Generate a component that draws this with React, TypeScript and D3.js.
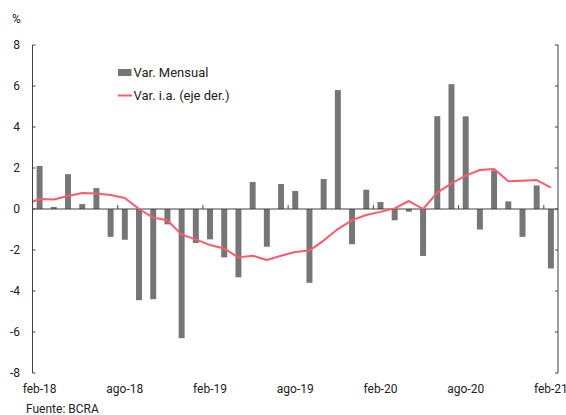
import React from 'react';
import { scaleBand, scaleLinear, line, range } from 'd3';

const WIDTH = 566;
const HEIGHT = 415;

// meses (feb-18 .. feb-21)
const months = [
  'feb-18', 'mar-18', 'abr-18', 'may-18', 'jun-18', 'jul-18', 'ago-18', 'sep-18', 'oct-18', 'nov-18', 'dic-18', 'ene-19',
  'feb-19', 'mar-19', 'abr-19', 'may-19', 'jun-19', 'jul-19', 'ago-19', 'sep-19', 'oct-19', 'nov-19', 'dic-19', 'ene-20',
  'feb-20', 'mar-20', 'abr-20', 'may-20', 'jun-20', 'jul-20', 'ago-20', 'sep-20', 'oct-20', 'nov-20', 'dic-20', 'ene-21',
  'feb-21'
];

// Var. Mensual (%)
const varMensual = [
  2.1, 0.1, 1.7, 0.24, 1.02, -1.36, -1.5, -4.45, -4.4, -0.75, -6.3, -1.66,
  -1.48, -2.36, -3.33, 1.32, -1.84, 1.22, 0.88, -3.6, 1.46, 5.8, -1.72, 0.94,
  0.34, -0.55, -0.13, -2.29, 4.53, 6.09, 4.52, -1.0, 1.88, 0.37, -1.36, 1.15,
  -2.9
];

// Var. i.a. (eje der.), drawn on the shared grid; first value is ene-18 (clipped)
const varIaPrev = 0.23;
const varIa = [
  0.49, 0.46, 0.63, 0.78, 0.76, 0.68, 0.54, 0.0, -0.42, -0.55, -1.25, -1.48,
  -1.76, -1.93, -2.36, -2.28, -2.49, -2.28, -2.1, -2.03, -1.54, -0.98, -0.54, -0.29,
  -0.14, 0.03, 0.39, 0.0, 0.8, 1.25, 1.63, 1.9, 1.95, 1.35, 1.38, 1.41,
  1.04
];

const yTicks = range(-8, 9, 2);
const labelEvery = 6;

const LEFT = 32.5;
const RIGHT = 558;
const TOP = 45;
const BOTTOM = 373;

const BAR_COLOR = '#767676';
const LINE_COLOR = '#ff5a6a';
const AXIS_COLOR = '#404040';
const FONT = 'Roboto, sans-serif';

export default function App() {
  const x = scaleBand<string>()
    .domain(months)
    .range([LEFT, RIGHT])
    .paddingInner(0.58)
    .paddingOuter(0.29);
  const y = scaleLinear().domain([-8, 8]).range([BOTTOM, TOP]);
  const step = x.step();
  const bw = x.bandwidth();
  const cx = (m: string) => (x(m) as number) + bw / 2;

  const pts: [number, number][] = [
    [cx(months[0]) - step, y(varIaPrev)],
    ...months.map((m, i) => [cx(m), y(varIa[i])] as [number, number])
  ];
  const path = line()(pts) || '';

  const zero = y(0);

  return (
    <svg
      width={WIDTH}
      height={HEIGHT}
      style={{ position: 'absolute', left: 0, top: 0, background: '#fff' }}
      fontFamily={FONT}
    >
      <defs>
        <clipPath id="plot">
          <rect x={LEFT} y={TOP} width={RIGHT - LEFT} height={BOTTOM - TOP} />
        </clipPath>
      </defs>

      {/* bars */}
      {months.map((m, i) => {
        const v = varMensual[i];
        return (
          <rect
            key={m}
            x={x(m)}
            y={Math.min(y(v), zero)}
            width={bw}
            height={Math.abs(y(v) - zero)}
            fill={BAR_COLOR}
          />
        );
      })}

      {/* zero line + month ticks */}
      <line x1={LEFT} x2={RIGHT} y1={zero} y2={zero} stroke={AXIS_COLOR} strokeWidth={1} />
      {months.map((m, i) =>
        i > 0 && i % labelEvery === 0 ? (
          <line key={m} x1={x(m)! - (step - bw) / 2} x2={x(m)! - (step - bw) / 2} y1={zero} y2={zero - 4} stroke={AXIS_COLOR} />
        ) : null
      )}

      {/* line */}
      <path d={path} fill="none" stroke={LINE_COLOR} strokeWidth={2} clipPath="url(#plot)" strokeLinejoin="round" />

      {/* left axis */}
      <line x1={LEFT} x2={LEFT} y1={TOP} y2={BOTTOM} stroke={AXIS_COLOR} />
      {yTicks.map(t => (
        <g key={t}>
          <line x1={LEFT} x2={LEFT + 3} y1={y(t)} y2={y(t)} stroke={AXIS_COLOR} />
          <text x={20} y={y(t)} dy="0.35em" textAnchor="end" fontSize={12} fill="#222">{t}</text>
        </g>
      ))}
      <text x={12} y={23} fontSize={12} fill="#222">%</text>

      {/* right axis */}
      <line x1={RIGHT} x2={RIGHT} y1={TOP} y2={BOTTOM} stroke={AXIS_COLOR} />
      {yTicks.map(t => (
        <line key={t} x1={RIGHT - 3} x2={RIGHT} y1={y(t)} y2={y(t)} stroke={AXIS_COLOR} />
      ))}

      {/* x labels */}
      {months.map((m, i) =>
        i % labelEvery === 0 ? (
          <text key={m} x={cx(m)} y={393} textAnchor="middle" fontSize={12} fill="#222">{m}</text>
        ) : null
      )}

      {/* legend */}
      <rect x={118} y={69} width={13.5} height={7} fill={BAR_COLOR} />
      <text x={133.5} y={77} fontSize={13} fill="#222">Var. Mensual</text>
      <line x1={118} x2={132} y1={95.5} y2={95.5} stroke={LINE_COLOR} strokeWidth={2} />
      <text x={133.5} y={99.5} fontSize={13} fill="#222">Var. i.a. (eje der.)</text>

      <text x={26} y={413} fontSize={12} fill="#222">Fuente: BCRA</text>
    </svg>
  );
}
